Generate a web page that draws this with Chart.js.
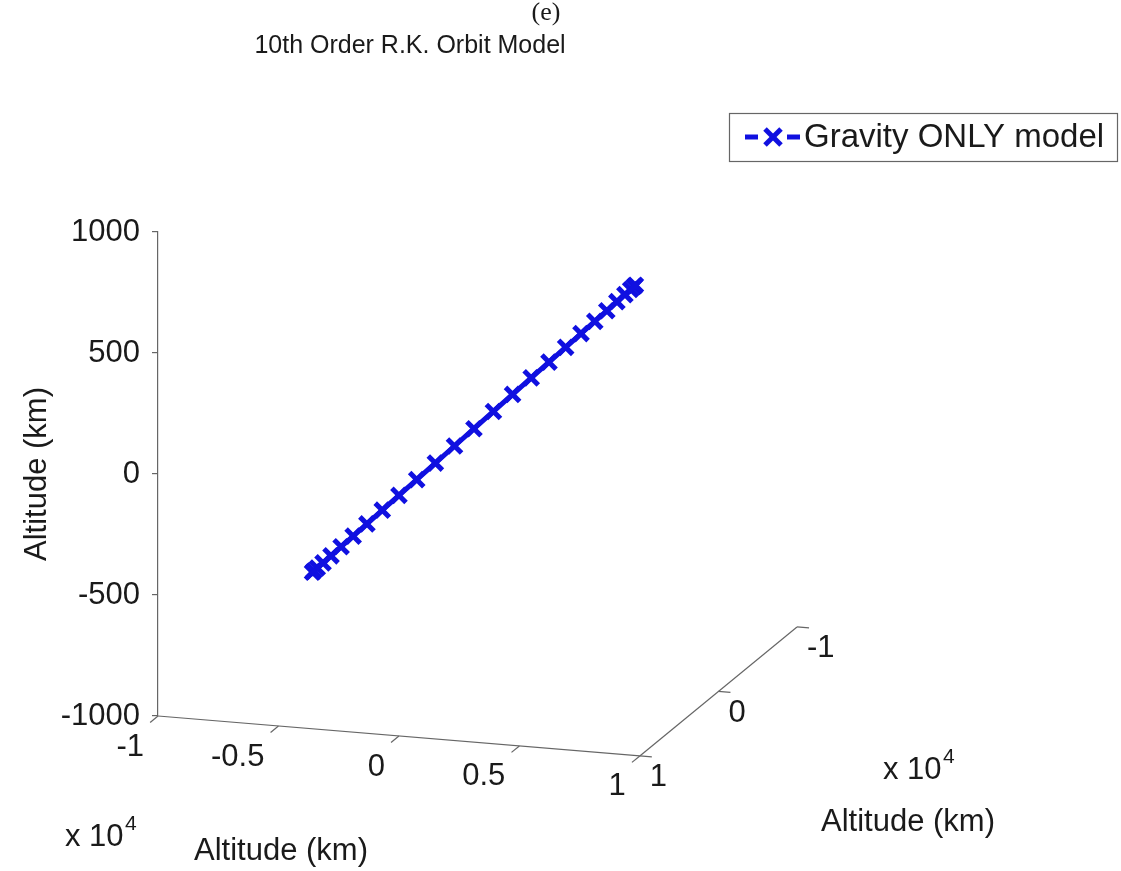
<!DOCTYPE html>
<html>
<head>
<meta charset="utf-8">
<script src="https://cdn.jsdelivr.net/npm/chart.js@4/dist/chart.umd.min.js"></script>
<style>
body { margin: 0; background: #fff; }
</style>
</head>
<body>
<canvas id="orbit" width="1121" height="871"></canvas>
<script>
// orbit samples in km (one half orbit, seen edge on)
var orbit_x = [-6700, -6651, -6505, -6265, -5933, -5514, -5015, -4443, -3806, -3114, -2376, -1603, -808, 0,
               808, 1603, 2376, 3114, 3806, 4443, 5015, 5514, 5933, 6265, 6505, 6651, 6700];
var orbit_y = [450, 450, 450, 450, 450, 450, 450, 450, 450, 450, 450, 450, 450, 450,
               450, 450, 450, 450, 450, 450, 450, 450, 450, 450, 450, 450, 450];
var orbit_z = [-633, -628, -614, -591, -559, -518, -470, -415, -353, -286, -215, -140, -63, 15,
               93, 170, 245, 316, 383, 445, 500, 548, 589, 621, 644, 658, 663];

var z_ticks = [-1000, -500, 0, 500, 1000];
var x_ticks = [-1, -0.5, 0, 0.5, 1];        // x 10^4 km
var x_tick_labels = ["-1", "-0.5", "0", "0.5", "1"];
var y_ticks = [-1, 0, 1];                   // x 10^4 km
var y_tick_labels = ["-1", "0", "1"];

var panel_text = "(e)";
var title_text = "10th Order R.K. Orbit Model";
var axis_text = "Altitude (km)";
var legend_text = "Gravity ONLY model";

var blau = '#1010e0';
var text_farbe = '#1a1a1a';
var achsen_farbe = '#666666';
var schrift = "'Liberation Sans', Arial, sans-serif";

// view of the box: share of the width taken by x axis, screen drop/rise (in km of z) along x and y
var view_a = 0.754;
var drop_x = 165;
var rise_y = 533;

function project(x, y, z) {
    var fx = (x / 1e4 + 1) / 2;
    var fy = (1 - y / 1e4) / 2;
    return { x: fx * view_a + fy * (1 - view_a), y: z - fx * drop_x + fy * rise_y };
}

var punkte = [];
for (var i = 0; i < orbit_x.length; i++) {
    punkte.push(project(orbit_x[i], orbit_y[i], orbit_z[i]));
}

var achsen_plugin = {
    id: 'achsen3d',
    afterDraw: function(chart) {
        var ctx = chart.ctx;
        var sx = chart.scales.x;
        var sy = chart.scales.y;
        function px(x, y, z) {
            var p = project(x, y, z);
            return [sx.getPixelForValue(p.x), sy.getPixelForValue(p.y)];
        }
        function linie(a, b) {
            ctx.beginPath();
            ctx.moveTo(a[0], a[1]);
            ctx.lineTo(b[0], b[1]);
            ctx.stroke();
        }
        ctx.save();
        ctx.strokeStyle = achsen_farbe;
        ctx.lineWidth = 1.2;

        // x axis along the front
        linie(px(-1e4, 1e4, -1000), px(1e4, 1e4, -1000));
        // y axis going back on the right
        linie(px(1e4, 1e4, -1000), px(1e4, -1e4, -1000));

        ctx.fillStyle = text_farbe;
        ctx.font = "31px " + schrift;
        ctx.textBaseline = 'middle';

        for (var i = 0; i < x_ticks.length; i++) {
            var a = px(x_ticks[i] * 1e4, 1e4, -1000);
            linie(a, px(x_ticks[i] * 1e4, 1.1e4, -1000));
            ctx.textAlign = 'right';
            ctx.fillText(x_tick_labels[i], a[0] - 14, a[1] + 31);
        }
        for (var j = 0; j < y_ticks.length; j++) {
            var b = px(1e4, y_ticks[j] * 1e4, -1000);
            linie(b, px(1.05e4, y_ticks[j] * 1e4, -1000));
            ctx.textAlign = 'left';
            ctx.fillText(y_tick_labels[j], b[0] + 10, b[1] + 22);
        }

        // exponent labels
        ctx.textAlign = 'left';
        ctx.textBaseline = 'alphabetic';
        ctx.font = "31px " + schrift;
        ctx.fillText("x 10", 65, 846);
        ctx.fillText("x 10", 883, 779);
        ctx.font = "21px " + schrift;
        ctx.fillText("4", 125, 830);
        ctx.fillText("4", 943, 763);

        // axis titles of x and y
        ctx.font = "31px " + schrift;
        ctx.textAlign = 'center';
        ctx.textBaseline = 'middle';
        ctx.fillText(axis_text, 281, 851);
        ctx.fillText(axis_text, 908, 822);

        // panel letter and title
        ctx.font = "26px 'Liberation Serif', 'Times New Roman', serif";
        ctx.fillText(panel_text, 546, 13);
        ctx.font = "25px " + schrift;
        ctx.fillText(title_text, 410, 46);

        // legend box
        ctx.lineWidth = 1.2;
        ctx.strokeStyle = achsen_farbe;
        ctx.strokeRect(729.5, 113.5, 388, 48);
        ctx.strokeStyle = blau;
        ctx.lineWidth = 5;
        linie([745, 137], [758, 137]);
        linie([787, 137], [800, 137]);
        linie([765, 129], [781, 145]);
        linie([765, 145], [781, 129]);
        ctx.fillStyle = text_farbe;
        ctx.font = "33px " + schrift;
        ctx.textAlign = 'left';
        ctx.fillText(chart.data.datasets[0].label, 804, 138);
        ctx.restore();
    }
};

var ctx = document.getElementById('orbit').getContext('2d');
var myChart = new Chart(ctx, {
    type: 'scatter',
    data: {
        datasets: [
        {
            label: legend_text,
            data: punkte,
            showLine: true,
            borderColor: blau,
            backgroundColor: blau,
            borderWidth: 5,
            pointStyle: 'crossRot',
            pointRadius: 10,
            pointBorderWidth: 5,
            clip: false
        }
        ]
    },
    options: {
        responsive: false,
        animation: false,
        devicePixelRatio: 1,
        layout: { padding: { top: 232, bottom: 155, left: 0, right: 324 } },
        plugins: {
            legend: { display: false },
            title: { display: false },
            tooltip: { enabled: false }
        },
        scales: {
            x: { type: 'linear', display: false, min: 0, max: 1 },
            y: {
                type: 'linear',
                min: -1000,
                max: 1000,
                afterBuildTicks: function(scale) {
                    scale.ticks = z_ticks.map(function(v) { return { value: v }; });
                },
                afterFit: function(scale) { scale.width = 158; },
                ticks: {
                    callback: function(v) { return String(v); },
                    font: { family: schrift, size: 31 },
                    color: text_farbe,
                    padding: 12
                },
                grid: { drawOnChartArea: false, tickLength: 6, color: achsen_farbe, lineWidth: 1.2 },
                border: { color: achsen_farbe, width: 1.2 },
                title: {
                    display: true,
                    text: axis_text,
                    font: { family: schrift, size: 31 },
                    color: text_farbe,
                    padding: { top: 19, bottom: 0 }
                }
            }
        }
    },
    plugins: [achsen_plugin]
});
</script>
</body>
</html>
